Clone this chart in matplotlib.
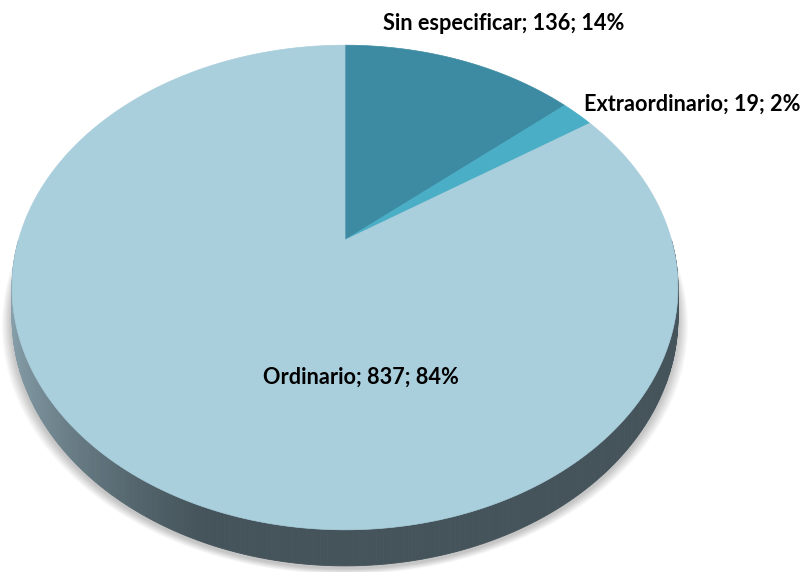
import numpy as np
import matplotlib
matplotlib.use("Agg")
import matplotlib.pyplot as plt
from matplotlib.patches import Polygon
from matplotlib.colors import to_rgb

# ---- data ----
categories = ["Sin especificar", "Extraordinario", "Ordinario"]
values = [136, 19, 837]
percent_labels = ["14%", "2%", "84%"]
colors = ["#3C8BA2", "#4AAEC6", "#A9CEDC"]

# ---- 3D pie geometry (screen pixels) ----
W, H = 808, 572
cx, cy = 345.0, 240.0      # pie centre on top face
A, B = 326.5, 233.0        # horizontal / depth radius
P = 0.196                  # perspective factor
THICK = 29.0               # side thickness

def proj(theta, drop=0.0):
    # theta: degrees clockwise from 12 o'clock
    t = np.radians(theta)
    x, z = np.sin(t), np.cos(t)
    f = 1.0 / (1.0 + P * z)
    return cx + A * x * f, cy - B * z * f + drop * f

fig = plt.figure(figsize=(W / 100, H / 100), dpi=100)
ax = fig.add_axes([0, 0, 1, 1])
ax.set_xlim(0, W)
ax.set_ylim(H, 0)
ax.axis("off")

# soft shadow
th_all = np.linspace(0, 360, 361)
for i, grow in enumerate(np.linspace(10, 1, 10)):
    xs, ys = proj(th_all, THICK + 2)
    xs = cx + (xs - cx) * (1 + grow / 330.0)
    ys = ys + grow * 0.6
    ax.add_patch(Polygon(np.column_stack([xs, ys]), closed=True,
                         facecolor="#000000", alpha=0.025, lw=0, zorder=0))

# side wall (front half), gradient by horizontal position
light = np.array(to_rgb("#8AA3AE"))
dark = np.array(to_rgb("#45545B"))
ths = np.linspace(90, 270, 361)
for a0, a1 in zip(ths[:-1], ths[1:]):
    x0, y0 = proj(a0)
    x1, y1 = proj(a1)
    x0b, y0b = proj(a0, THICK)
    x1b, y1b = proj(a1, THICK)
    xm = np.sin(np.radians((a0 + a1) / 2))
    if xm < -0.35:
        w = (-0.35 - xm) / 0.65
        c = dark + (light - dark) * min(1.0, w) ** 1.2
    else:
        c = dark
    ax.add_patch(Polygon([(x0, y0), (x1, y1), (x1b, y1b), (x0b, y0b)],
                         closed=True, facecolor=c, edgecolor=c, lw=0.6, zorder=1))

# top face slices
total = float(sum(values))
start = 0.0
for v, col in zip(values, colors):
    span = 360.0 * v / total
    th = np.linspace(start, start + span, max(3, int(span * 2)))
    xs, ys = proj(th)
    pts = np.vstack([[cx, cy], np.column_stack([xs, ys])])
    ax.add_patch(Polygon(pts, closed=True, facecolor=col, edgecolor=col,
                         lw=0.5, zorder=2))
    start += span

# labels
font = dict(family=["Lato", "DejaVu Sans"], fontweight="bold", fontsize=15.6,
            color="black", zorder=5)
texts = [f"{c}; {v}; {p}" for c, v, p in zip(categories, values, percent_labels)]
ax.text(504, 23, texts[0], ha="center", va="center", **font)
ax.text(692, 104, texts[1], ha="center", va="center", **font)
ax.text(361, 377, texts[2], ha="center", va="center", **font)

fig.savefig("out.png", dpi=100)
